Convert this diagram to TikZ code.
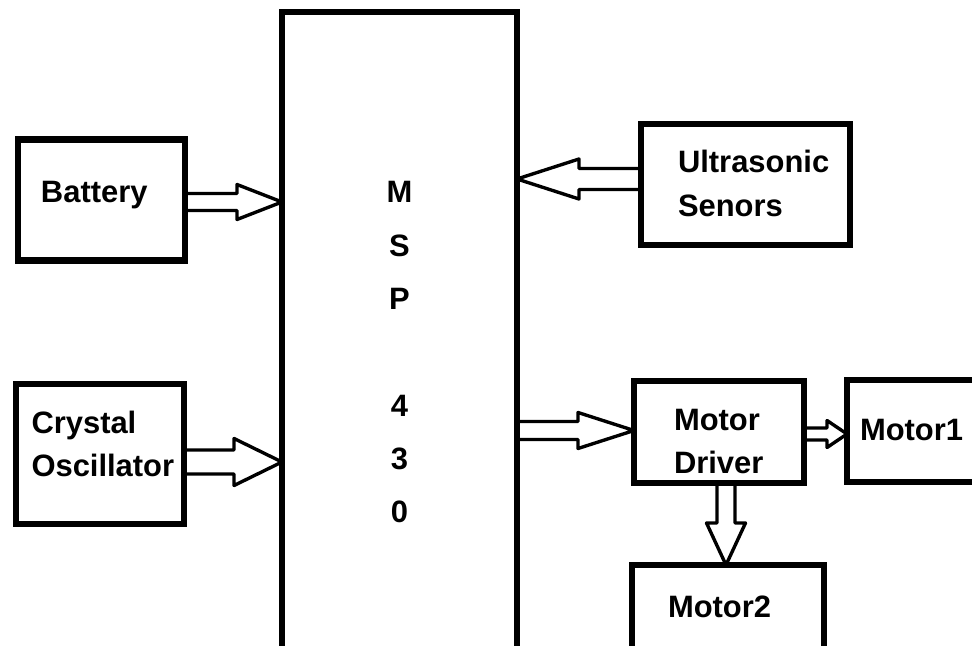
\documentclass[tikz,border=0pt]{standalone}
\usepackage{fontspec}
\setmainfont{Liberation Sans}
\usetikzlibrary{calc}

\tikzset{
  block/.style={draw, line width=4.3pt, outer sep=0pt, inner ysep=0pt,
    anchor=north west, align=left,
    font=\bfseries\fontsize{22pt}{30.6pt}\selectfont},
  fat/.style={line width=2.4pt, line join=round}
}

% hollow block arrow: tail, tip, shaft half width, head half width, head length
\newcommand{\fatarrow}[5]{%
  \draw[fat] let \p1=(#1), \p2=(#2),
    \n1={atan2(\y2-\y1,\x2-\x1)}, \n2={veclen(\x2-\x1,\y2-\y1)} in
    [shift={(\p1)}, rotate=\n1]
    (0cm,#3) -- (\n2-#5,#3) -- (\n2-#5,#4) -- (\n2,0cm)
    -- (\n2-#5,-#4) -- (\n2-#5,-#3) -- (0cm,-#3);
}

\begin{document}
\begin{tikzpicture}
  \useasboundingbox (0,0) rectangle (24.3,16.125);
  \clip (0,0) rectangle (24.3,16.125);

  % blocks
  \node[block, inner xsep=0.575cm, text width=3.025cm,
    text height=1.5875cm, text depth=1.4375cm] (battery) at (0.45,12.6375) {Battery};
  \node[block, inner xsep=0.3875cm, text width=3.425cm,
    text height=1.225cm, text depth=2.275cm] (crystal) at (0.4,6.525) {Crystal\\Oscillator};
  \node[block, align=center, inner xsep=0pt, text width=5.875cm,
    text height=4.775cm, text depth=12cm,
    font=\bfseries\fontsize{22pt}{37.9pt}\selectfont] (msp) at (7.05,15.825)
    {M\\S\\P\\[37.9pt]4\\3\\0};
  \node[block, inner xsep=0.925cm, text width=3.375cm,
    text height=1.225cm, text depth=1.8cm] (ultra) at (16.025,13.025) {Ultrasonic\\Senors};
  \node[block, inner xsep=1cm, text width=2.25cm,
    text height=1.225cm, text depth=1.325cm] (driver) at (15.85,6.6) {Motor\\Driver};
  \node[block, inner xsep=0.325cm, text width=3.35cm,
    text height=1.5cm, text depth=1.05cm] (motor1) at (21.175,6.625) {Motor1};
  \node[block, inner xsep=0.9cm, text width=3cm,
    text height=1.3cm, text depth=2.5cm] (motor2) at (15.8,2) {Motor2};

  % arrow ends
  \coordinate (bat-out) at ($(battery.east)+(0,-0.05)$);
  \coordinate (osc-out) at ($(crystal.east)+(0,-0.2)$);
  \coordinate (sen-out) at ($(ultra.west)+(0,0.1375)$);
  \coordinate (drv-in) at ($(driver.west)+(0,0.0375)$);
  \coordinate (m1-out) at ($(driver.east)+(0,-0.05)$);
  \coordinate (m2-out) at ($(driver.south)+(0.175,0)$);

  % arrows
  \fatarrow{bat-out}{msp.west |- bat-out}{0.2125cm}{0.4375cm}{1.125cm}
  \fatarrow{osc-out}{msp.west |- osc-out}{0.3cm}{0.5875cm}{1.2cm}
  \fatarrow{sen-out}{msp.east |- sen-out}{0.2625cm}{0.5cm}{1.55cm}
  \fatarrow{msp.east |- drv-in}{drv-in}{0.225cm}{0.45cm}{1.4cm}
  \fatarrow{m1-out}{motor1.west |- m1-out}{0.15cm}{0.3375cm}{0.5cm}
  \fatarrow{m2-out}{m2-out |- motor2.north}{0.225cm}{0.4875cm}{1.05cm}
\end{tikzpicture}
\end{document}
